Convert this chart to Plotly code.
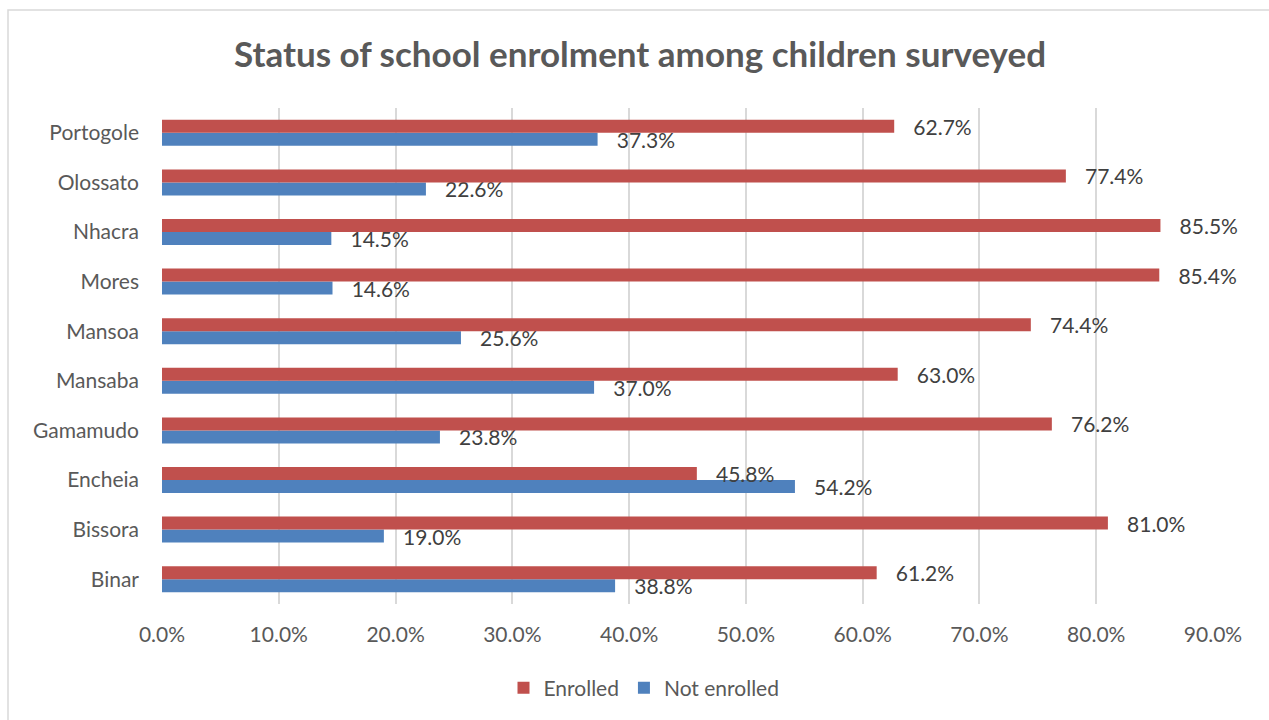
import plotly.graph_objects as go

categories = ["Binar", "Bissora", "Encheia", "Gamamudo", "Mansaba",
              "Mansoa", "Mores", "Nhacra", "Olossato", "Portogole"]
enrolled = [61.2, 81.0, 45.8, 76.2, 63.0, 74.4, 85.4, 85.5, 77.4, 62.7]
not_enrolled = [38.8, 19.0, 54.2, 23.8, 37.0, 25.6, 14.6, 14.5, 22.6, 37.3]
tick_vals = [0, 10, 20, 30, 40, 50, 60, 70, 80, 90]
tick_text = [f"{v:.1f}%" for v in tick_vals]

FONT = "Lato"
RED = "#C0504D"
BLUE = "#4F81BD"
PAD = "\u00a0\u00a0\u00a0"

W, H = 1269, 720
L, R, T, B = 162, 56, 108, 116
pw, ph = W - L - R, H - T - B

def px_x(x):
    return (x - L) / pw

def px_y(y):
    return (H - B - y) / ph

fig = go.Figure()
fig.add_trace(go.Bar(
    y=categories, x=not_enrolled, orientation="h", name="Not enrolled",
    marker=dict(color=BLUE, line=dict(width=0)),
    text=[PAD + f"{v:.1f}%" for v in not_enrolled], textposition="outside",
    textfont=dict(family=FONT, size=21, color="#404040"),
    constraintext="none", cliponaxis=False, legendrank=2,
))
fig.add_trace(go.Bar(
    y=categories, x=enrolled, orientation="h", name="Enrolled",
    marker=dict(color=RED, line=dict(width=0)),
    text=[PAD + f"{v:.1f}%" for v in enrolled], textposition="outside",
    textfont=dict(family=FONT, size=21, color="#404040"),
    constraintext="none", cliponaxis=False, legendrank=1,
))

fig.update_layout(
    width=W, height=H,
    margin=dict(l=L, r=R, t=T, b=B),
    paper_bgcolor="white", plot_bgcolor="white",
    barmode="group", bargap=0.476, bargroupgap=0,
    title=dict(text="<b>Status of school enrolment among children surveyed</b>",
               x=px_x(640), xref="paper", xanchor="center",
               y=1 - 55 / H, yanchor="middle",
               font=dict(family=FONT, size=35, color="#595959")),
    font=dict(family=FONT, color="#595959"),
    showlegend=True,
    legend=dict(orientation="h", x=px_x(644), xanchor="center",
                y=px_y(688), yanchor="middle",
                font=dict(family=FONT, size=21, color="#595959"),
                itemwidth=30, traceorder="normal"),
    xaxis=dict(range=[0, 90], tickvals=tick_vals, ticktext=tick_text,
               showgrid=True, gridcolor="#D9D9D9", gridwidth=1.5,
               zeroline=False, showline=False, ticks="",
               tickfont=dict(family=FONT, size=21, color="#595959"),
               ticklabelstandoff=16, fixedrange=True),
    yaxis=dict(type="category", categoryorder="array", categoryarray=categories,
               showgrid=False, zeroline=False, showline=False, ticks="",
               tickfont=dict(family=FONT, size=21, color="#595959"),
               ticklabelstandoff=22, fixedrange=True),
    shapes=[dict(type="rect", xref="paper", yref="paper",
                 x0=px_x(8), x1=px_x(1280), y0=px_y(730), y1=px_y(10),
                 line=dict(color="#D9D9D9", width=1.5), fillcolor="rgba(0,0,0,0)",
                 layer="below")],
)

fig.write_html("out.html", config={"displayModeBar": False},
               post_script="document.body.style.margin='0';document.body.style.overflow='hidden';")
